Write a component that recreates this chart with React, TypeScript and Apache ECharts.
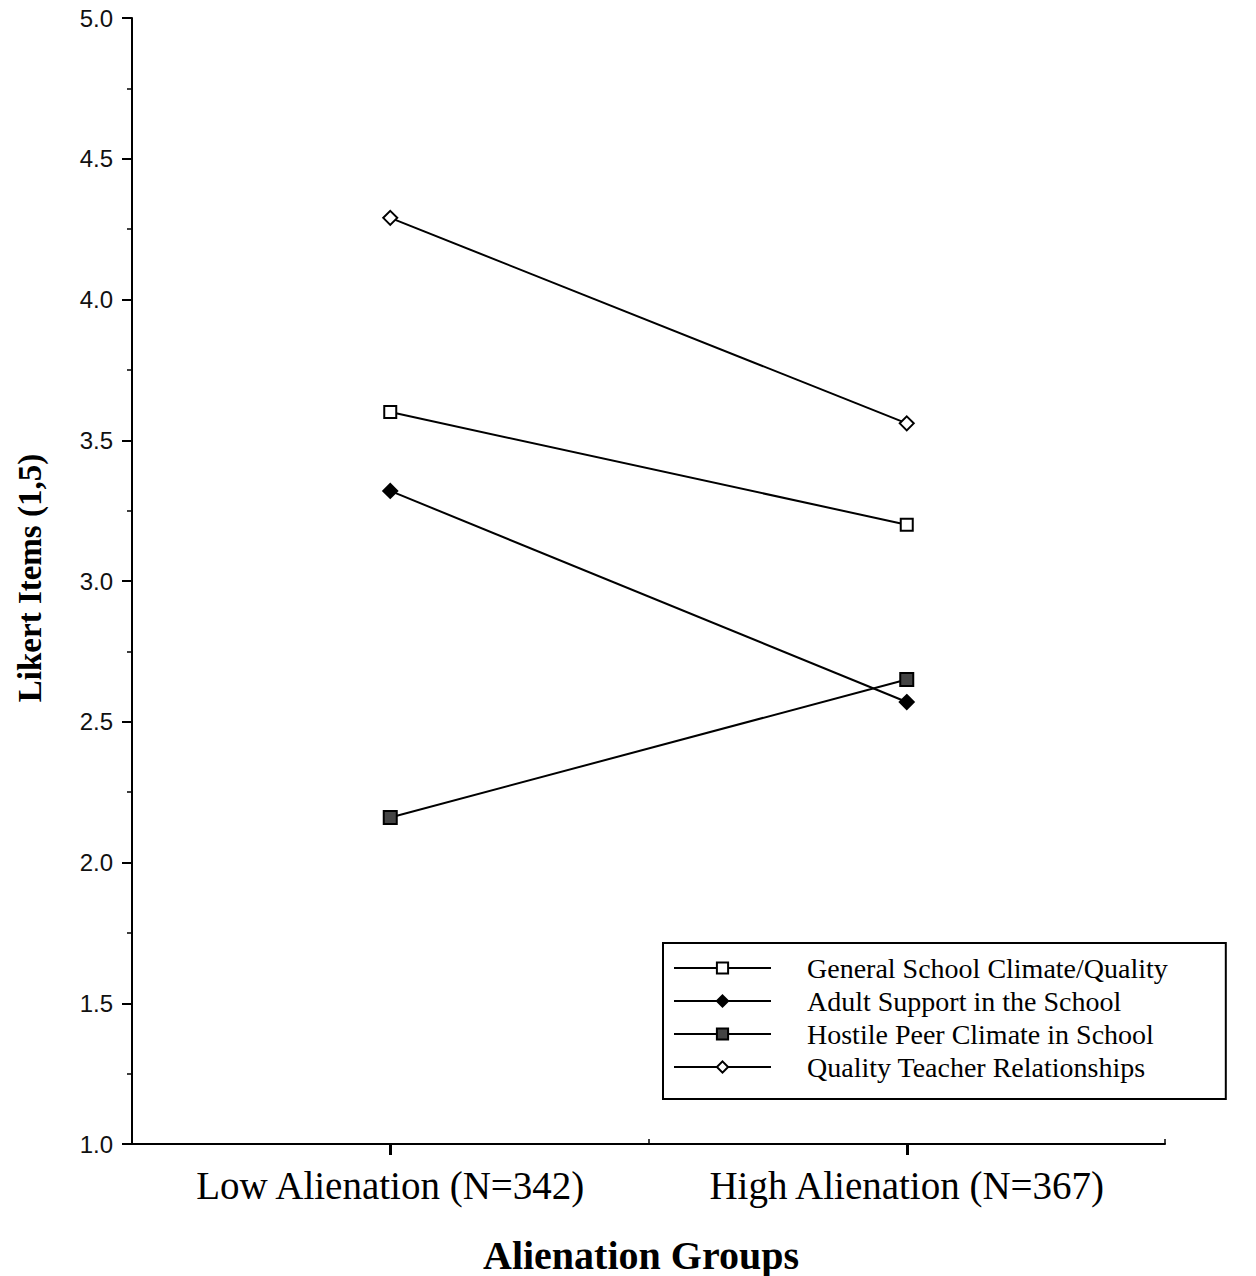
import React, { useEffect, useRef } from "react";
import * as echarts from "echarts";

const categories = ["Low Alienation (N=342)", "High Alienation (N=367)"];
const seriesNames = [
  "General School Climate/Quality",
  "Adult Support in the School",
  "Hostile Peer Climate in School",
  "Quality Teacher Relationships",
];
const generalClimate = [3.6, 3.2];
const adultSupport = [3.32, 2.57];
const hostilePeer = [2.16, 2.65];
const teacherRelationships = [4.29, 3.56];
const yMin = 1;
const yMax = 5;
const yStep = 0.5;
const yAxisTitle = "Likert Items (1,5)";
const xAxisTitle = "Alienation Groups";

const serif = '"Liberation Serif", "Times New Roman", serif';
const sans = '"Liberation Sans", Arial, sans-serif';

export default function App() {
  const ref = useRef<HTMLDivElement>(null);
  useEffect(() => {
    if (!ref.current) return;
    const chart = echarts.init(ref.current, null, { renderer: "svg" });
    const line = { color: "#000", width: 2 };
    const mk = (name: string, data: number[], symbol: string, size: number, fill: string) => ({
      name,
      type: "line",
      data,
      symbol,
      symbolSize: size,
      showAllSymbol: true,
      lineStyle: line,
      itemStyle: { color: fill, borderColor: "#000", borderWidth: 2 },
      emphasis: { disabled: true },
      z: 3,
    });
    chart.setOption({
      animation: false,
      backgroundColor: "#fff",
      grid: { left: 132, top: 18, right: 91, bottom: 132 },
      xAxis: [
        {
          type: "category",
          data: categories,
          boundaryGap: true,
          axisLine: { lineStyle: { color: "#000", width: 2 } },
          axisTick: { show: true, interval: 0, alignWithLabel: true, length: 11, lineStyle: { color: "#000", width: 3 } },
          axisLabel: { color: "#000", fontFamily: serif, fontSize: 39, margin: 22, interval: 0 },
          splitLine: { show: false },
          z: 4,
        },
        {
          type: "value",
          min: 0,
          max: 2,
          interval: 1,
          position: "bottom",
          axisLine: { show: false },
          axisTick: { show: true, inside: true, length: 5, lineStyle: { color: "#000", width: 1.5 } },
          axisLabel: { show: false },
          splitLine: { show: false },
        },
      ],
      yAxis: {
        type: "value",
        min: yMin,
        max: yMax,
        interval: yStep,
        axisLine: { show: true, lineStyle: { color: "#000", width: 2 } },
        axisTick: { show: true, length: 10, lineStyle: { color: "#000", width: 2 } },
        minorTick: { show: true, splitNumber: 2, length: 5, lineStyle: { color: "#000", width: 1.5 } },
        axisLabel: {
          color: "#111",
          fontFamily: sans,
          fontSize: 24,
          margin: 19,
          formatter: (v: number) => v.toFixed(1),
        },
        splitLine: { show: false },
      },
      legend: {
        orient: "vertical",
        left: 663,
        top: 943,
        padding: [11, 58, 18, 10],
        itemWidth: 97,
        itemHeight: 14,
        itemGap: 5,
        borderColor: "#000",
        borderWidth: 2,
        borderRadius: 0,
        data: seriesNames,
        textStyle: {
          color: "#000",
          fontFamily: serif,
          fontSize: 28,
          lineHeight: 27,
          padding: [0, 0, 0, 31],
        },
      },
      graphic: [
        {
          type: "text",
          x: 30,
          y: 578,
          rotation: Math.PI / 2,
          style: {
            text: yAxisTitle,
            font: `bold 33px ${serif}`,
            fill: "#000",
            textAlign: "center",
            textVerticalAlign: "middle",
          },
        },
        {
          type: "text",
          x: 641,
          y: 1255,
          style: {
            text: xAxisTitle,
            font: `bold 40px ${serif}`,
            fill: "#000",
            textAlign: "center",
            textVerticalAlign: "middle",
          },
        },
      ],
      series: [
        mk(seriesNames[0], generalClimate, "rect", 12, "#fff"),
        mk(seriesNames[1], adultSupport, "diamond", 14, "#000"),
        mk(seriesNames[2], hostilePeer, "rect", 13, "#444"),
        mk(seriesNames[3], teacherRelationships, "diamond", 14, "#fff"),
      ],
    });
    return () => chart.dispose();
  }, []);
  return <div ref={ref} style={{ width: 1256, height: 1276, position: "absolute", left: 0, top: 0 }} />;
}
